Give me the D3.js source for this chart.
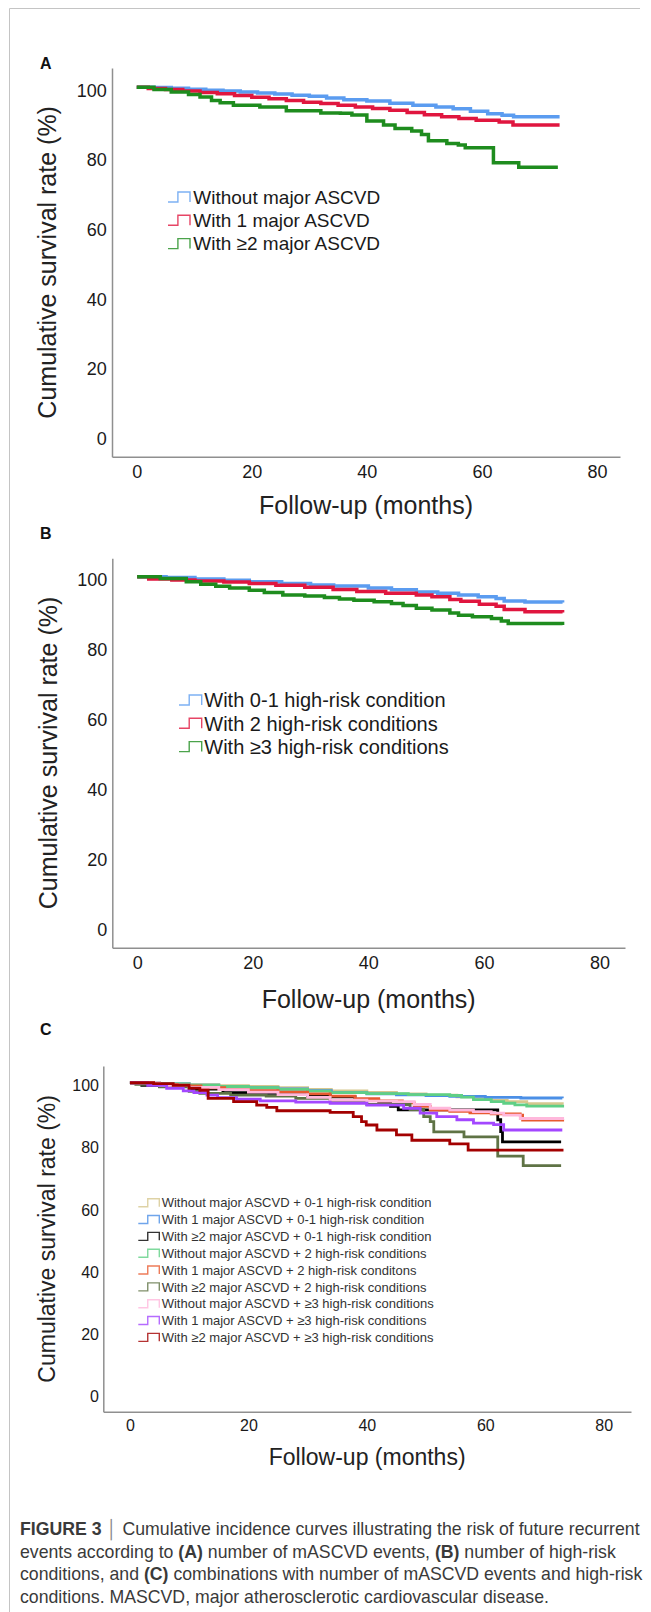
<!DOCTYPE html>
<html>
<head>
<meta charset="utf-8">
<script src="https://cdn.jsdelivr.net/npm/d3@7"></script>
<style>
  body { margin: 0; background: #fff; }
  svg { display: block; font-family: "Liberation Sans", Arial, sans-serif; }
</style>
</head>
<body>
<div id="figure"></div>
<script>
// ticks shared by all three panels
const monthTicks = [0, 20, 40, 60, 80];
const rateTicks = [0, 20, 40, 60, 80, 100];

const xTitle = "Follow-up (months)";
const yTitle = "Cumulative survival rate (%)";

// ---- panel A : number of major ASCVD events ----
const aLabels = ["Without major ASCVD", "With 1 major ASCVD", "With \u22652 major ASCVD"];
const aWithout = [[0,100],[3,99.9],[6,99.7],[9,99.4],[12,99.1],[15,98.9],[18,98.6],[21,98.3],[24,98.0],[27,97.7],[30,97.4],[33,96.9],[36,96.4],[40,96.0],[44,95.4],[48,94.8],[52,94.3],[55,93.8],[58,93.1],[61,92.4],[63.5,91.9],[65.5,91.5],[73.5,91.5]];
const aOne = [[0,100],[2,99.6],[5,99.3],[8,98.9],[11,98.5],[14,98.1],[17,97.6],[20,97.1],[23,96.7],[26,96.2],[29,95.7],[32,95.3],[35,94.8],[38,94.3],[41,93.9],[44,93.4],[47,92.7],[50,92.1],[53,91.5],[56,91.0],[59,90.5],[63,90.0],[65.4,89.1],[73.5,89.1]];
const aTwo = [[0,100],[3,99.3],[6,98.6],[9,97.9],[11,97.2],[13,96.2],[14.5,95.5],[16.8,94.8],[21.4,94.3],[26,93.2],[32,92.6],[35.4,92.5],[37.4,92.0],[40,90.3],[42.9,89.1],[44.9,88.1],[47.8,87.4],[49.5,86.4],[50.7,84.6],[53.9,83.8],[55.9,83.4],[57.1,82.6],[62,78.3],[66.4,77.0],[73.2,77.0]];

// ---- panel B : number of high-risk conditions ----
const bLabels = ["With 0-1 high-risk condition", "With 2 high-risk conditions", "With \u22653 high-risk conditions"];
const bLow = [[0,100],[5,99.8],[10,99.4],[15,99.0],[19.4,98.6],[25,98.1],[30,97.7],[34,97.4],[40,96.8],[44,96.3],[48.3,95.7],[52,95.3],[55.6,94.8],[59,94.3],[62.1,93.8],[63.5,93.1],[67.1,92.8],[73.6,92.7]];
const bTwo = [[0,100],[2,99.4],[6,99.1],[10,98.8],[15,98.5],[19.4,98.1],[24,97.6],[29,97.0],[33.9,96.4],[38,95.8],[43,95.3],[48.3,94.8],[51,94.3],[54.1,93.5],[56,93.0],[59.2,92.2],[62.1,91.6],[63.5,90.7],[67.1,90.0],[73.6,89.8]];
const bThree = [[0,100],[4,99.5],[8.5,98.6],[11,97.9],[13.6,97.3],[16,96.8],[19.4,96.2],[22,95.5],[25.2,94.8],[29,94.5],[32.4,94.1],[35,93.7],[37.5,93.3],[41,92.9],[44,92.4],[46,91.8],[48.3,91.0],[51,90.5],[54.1,89.7],[55.6,89.0],[58,88.6],[61.3,88.1],[63,87.4],[64.2,86.7],[73.6,86.2]];

// ---- panel C : combinations ----
const cLabels = [
  "Without major ASCVD + 0-1 high-risk condition",
  "With 1 major ASCVD + 0-1 high-risk condition",
  "With \u22652 major ASCVD + 0-1 high-risk condition",
  "Without major ASCVD + 2 high-risk conditions",
  "With 1 major ASCVD + 2 high-risk conditons",
  "With \u22652 major ASCVD + 2 high-risk conditions",
  "Without major ASCVD + \u22653 high-risk conditions",
  "With 1 major ASCVD + \u22653 high-risk conditions",
  "With \u22652 major ASCVD + \u22653 high-risk conditions"
];
const cNoneLow = [[0,100],[5,99.7],[10,99.4],[15,99.1],[20,98.8],[25,98.4],[30,97.9],[34,97.4],[40,96.9],[45,96.4],[50,96.0],[55.2,95.5],[58,94.9],[61,94.3],[63.7,93.9],[67,93.3],[73,92.9]];
const cOneLow = [[0,100],[5,99.6],[10,99.2],[15,98.8],[20,98.4],[25,98.0],[30,97.5],[34,96.8],[40,96.4],[45,96.1],[50,95.9],[54,95.6],[60,95.3],[66,95.1],[73,95.0]];
const cTwoLow = [[0,100],[2,99.2],[5,98.8],[10,98.0],[15.7,96.8],[20,96.6],[25,96.3],[30,95.9],[33.8,95.5],[38,94.6],[42,93.6],[44,92.4],[45.3,91.3],[62.1,88.1],[62.6,84.3],[62.9,81.0],[72.8,81.0]];
const cNoneTwo = [[0,100],[5,99.6],[10,99.2],[15,98.8],[20,98.4],[25,97.9],[30,97.3],[33.8,96.8],[40,96.5],[47,96.2],[54,95.9],[56,95.4],[58,94.6],[61,93.9],[63.1,93.4],[65,92.9],[67,92.5],[73.3,92.5]];
const cOneTwo = [[0,100],[4,99.5],[8,99.0],[12,98.4],[16,97.9],[20,97.5],[25,97.0],[30,96.4],[33.8,95.7],[38,94.9],[42,94.2],[46,93.5],[48,92.4],[50.7,91.2],[54,90.8],[57.4,90.3],[61,90.0],[65.9,89.6],[66.3,88.0],[73.3,88.0]];
const cTwoTwo = [[0,100],[1,99.5],[5,98.7],[10,97.2],[11.8,96.6],[17,96.0],[23,95.7],[28,95.0],[33.8,94.0],[40,93.0],[47.3,91.4],[49.6,89.1],[50.7,87.5],[51.3,84.2],[56.4,82.6],[62.1,76.4],[66.4,73.3],[72.8,73.3]];
const cNoneHigh = [[0,100],[5,99.2],[10,98.5],[15,97.8],[20,97.0],[25,96.2],[30,95.3],[33.8,94.4],[40,94.1],[45,93.9],[48,93.0],[50.7,91.8],[54,91.2],[58,90.7],[61,90.2],[63.1,89.6],[65.9,88.5],[73.3,88.5]];
const cOneHigh = [[0,100],[3,99.2],[6.2,98.2],[9,97.4],[10.8,96.8],[13,96.0],[14.8,95.2],[18,94.7],[22,94.2],[28,93.8],[33.8,93.4],[40,92.8],[46.2,91.8],[49,90.2],[51.8,89.1],[55.2,88.1],[58,87.0],[61.4,86.5],[63.1,84.8],[73.0,84.8]];
const cTwoHigh = [[0,100],[4,99.7],[7.3,99.2],[10,98.3],[11.8,97.6],[13.2,95.0],[17.5,93.9],[21.4,92.8],[23.1,92.1],[24.8,91.0],[33.8,90.5],[37.7,89.1],[39.1,87.5],[39.9,86.4],[41.7,84.8],[45,83.2],[47.6,81.5],[54,80.3],[57.1,78.3],[73.2,78.3]];

// caption, one array of [text, bold] pieces per line
const captionLines = [
  [["FIGURE 3", true], [" \u2502 ", false], ["Cumulative incidence curves illustrating the risk of future recurrent", false]],
  [["events according to ", false], ["(A)", true], [" number of mASCVD events, ", false], ["(B)", true], [" number of high-risk", false]],
  [["conditions, and ", false], ["(C)", true], [" combinations with number of mASCVD events and high-risk", false]],
  [["conditions. MASCVD, major atherosclerotic cardiovascular disease.", false]]
];

const abColors = ["#5b9cf0", "#e0163f", "#1e8c1e"];
const cColors = ["#d6c78e", "#4b8fe6", "#000000", "#5fcf85", "#e85a30", "#5f7345", "#ffb8dc", "#a347ff", "#a30000"];

const width = 651;
const height = 1612;

const svg = d3.select("#figure")
    .append("svg")
    .attr("width", width)
    .attr("height", height);

svg.append("rect")
    .attr("width", width)
    .attr("height", height)
    .attr("fill", "#fff");

//thin frame on the left and top, like the journal page
svg.append("path")
    .attr("d", `M9.5,${height} V8.5 H640`)
    .attr("fill", "none")
    .attr("stroke", "#c4c4c4")
    .attr("stroke-width", 1);

const drawPanel = (p) => {
    const xScale = d3.scaleLinear()
        .domain(p.xDomain)
        .range([p.left, p.right]);

    const yScale = d3.scaleLinear()
        .domain(p.yDomain)
        .range([p.bottom, p.top]);

    const g = svg.append("g");

    //no tick marks, only the gray axis lines
    const bottomAxis = d3.axisBottom(xScale)
        .tickValues(monthTicks)
        .tickSize(0)
        .tickSizeOuter(0)
        .tickPadding(p.xPad);

    const xAxis = g.append("g")
        .attr("transform", `translate(0, ${p.bottom})`)
        .call(bottomAxis);

    const leftAxis = d3.axisLeft(yScale)
        .tickValues(rateTicks)
        .tickSize(0)
        .tickSizeOuter(0)
        .tickPadding(p.yPad);

    const yAxis = g.append("g")
        .attr("transform", `translate(${p.left}, 0)`)
        .call(leftAxis);

    [xAxis, yAxis].forEach(ax => {
        ax.attr("font-family", null).attr("font-size", p.tickFont);
        ax.select(".domain").attr("stroke", "#8f8f8f").attr("stroke-width", 1.5);
        ax.selectAll("text").attr("fill", "#1a1a1a");
    });
    yAxis.selectAll("text").attr("dy", "0.5em");

    //axis titles
    g.append("text")
        .text(xTitle)
        .attr("x", (p.left + p.right) / 2)
        .attr("y", p.xTitleY)
        .attr("text-anchor", "middle")
        .attr("font-size", p.titleFont)
        .attr("fill", "#222");

    g.append("text")
        .text(yTitle)
        .attr("transform", `translate(${p.yTitleX}, ${(p.top + p.bottom) / 2}) rotate(-90)`)
        .attr("text-anchor", "middle")
        .attr("font-size", p.titleFont)
        .attr("fill", "#222");

    //panel letter
    g.append("text")
        .text(p.letter)
        .attr("x", 40)
        .attr("y", p.letterY)
        .attr("font-size", 16)
        .attr("font-weight", "bold")
        .attr("fill", "#111");

    //survival curves, kaplan meier style steps
    const curveGenerator = d3.line()
        .x(d => xScale(d[0]))
        .y(d => yScale(d[1]))
        .curve(d3.curveStepAfter);

    g.append("g")
        .selectAll("path")
        .data(p.series)
        .join("path")
            .attr("d", d => curveGenerator(d))
            .attr("fill", "none")
            .attr("stroke", (d, i) => p.colors[i])
            .attr("stroke-width", p.lineWidth);

    //legend with the little step symbol
    const legend = g.append("g")
        .selectAll("g")
        .data(p.labels)
        .join("g")
            .attr("transform", (d, i) => `translate(${p.legendX}, ${p.legendTop + i * p.legendStep})`);

    const w = p.symbolW, h = p.symbolH;
    legend.append("path")
        .attr("d", `M0,${h / 2} H${w * 0.45} V${-h / 2} H${w} V${h / 2}`)
        .attr("fill", "none")
        .attr("stroke", (d, i) => p.colors[i])
        .attr("stroke-opacity", 0.8)
        .attr("stroke-width", 1.4);

    legend.append("text")
        .text(d => d)
        .attr("x", w + p.textGap)
        .attr("dy", "0.36em")
        .attr("font-size", p.legendFont)
        .attr("fill", p.legendColor);
};

drawPanel({
    letter: "A", letterY: 69,
    left: 112, right: 620, top: 68, bottom: 456.7,
    xDomain: [-4.3, 84], yDomain: [-6.1, 105.5],
    tickFont: 18, xPad: 8.7, yPad: 5.3,
    titleFont: 25, xTitleY: 514, yTitleX: 56,
    series: [aWithout, aOne, aTwo], labels: aLabels, colors: abColors, lineWidth: 3.5,
    legendX: 168, legendTop: 197, legendStep: 23.3, legendFont: 19, legendColor: "#1a1a1a",
    symbolW: 22, symbolH: 10, textGap: 3.3
});

drawPanel({
    letter: "B", letterY: 539,
    left: 112.3, right: 625, top: 558.3, bottom: 947.7,
    xDomain: [-4.3, 84.4], yDomain: [-6, 105.3],
    tickFont: 18, xPad: 8.7, yPad: 5,
    titleFont: 25, xTitleY: 1007.5, yTitleX: 57,
    series: [bLow, bTwo, bThree], labels: bLabels, colors: abColors, lineWidth: 3.5,
    legendX: 179, legendTop: 700, legendStep: 23.3, legendFont: 20, legendColor: "#1a1a1a",
    symbolW: 22.7, symbolH: 10, textGap: 2.6
});

drawPanel({
    letter: "C", letterY: 1035,
    left: 103.3, right: 631, top: 1066, bottom: 1411.7,
    xDomain: [-4.5, 84.6], yDomain: [-5.9, 105.4],
    tickFont: 16, xPad: 8.4, yPad: 4.3,
    titleFont: 23, xTitleY: 1464.6, yTitleX: 54.6,
    series: [cNoneLow, cOneLow, cTwoLow, cNoneTwo, cOneTwo, cTwoTwo, cNoneHigh, cOneHigh, cTwoHigh],
    labels: cLabels, colors: cColors, lineWidth: 2.8,
    legendX: 138.3, legendTop: 1202.7, legendStep: 16.83, legendFont: 13, legendColor: "#333",
    symbolW: 21, symbolH: 8, textGap: 2.4
});

//caption below the figure
const caption = svg.append("g")
    .selectAll("text")
    .data(captionLines)
    .join("text")
        .attr("x", 20)
        .attr("y", (d, i) => 1535 + i * 22.6)
        .attr("font-size", 16)
        .attr("fill", "#3a3a3a");

caption.selectAll("tspan")
    .data(d => d)
    .join("tspan")
        .text(d => d[0])
        .attr("font-weight", d => d[1] ? "bold" : null)
        .attr("fill", d => d[0].includes("\u2502") ? "#888" : null);

//size the caption so the first line fills the text column, as in the journal
const firstLen = caption.node().getComputedTextLength();
caption.attr("font-size", 16 * 620 / firstLen);
</script>
</body>
</html>
